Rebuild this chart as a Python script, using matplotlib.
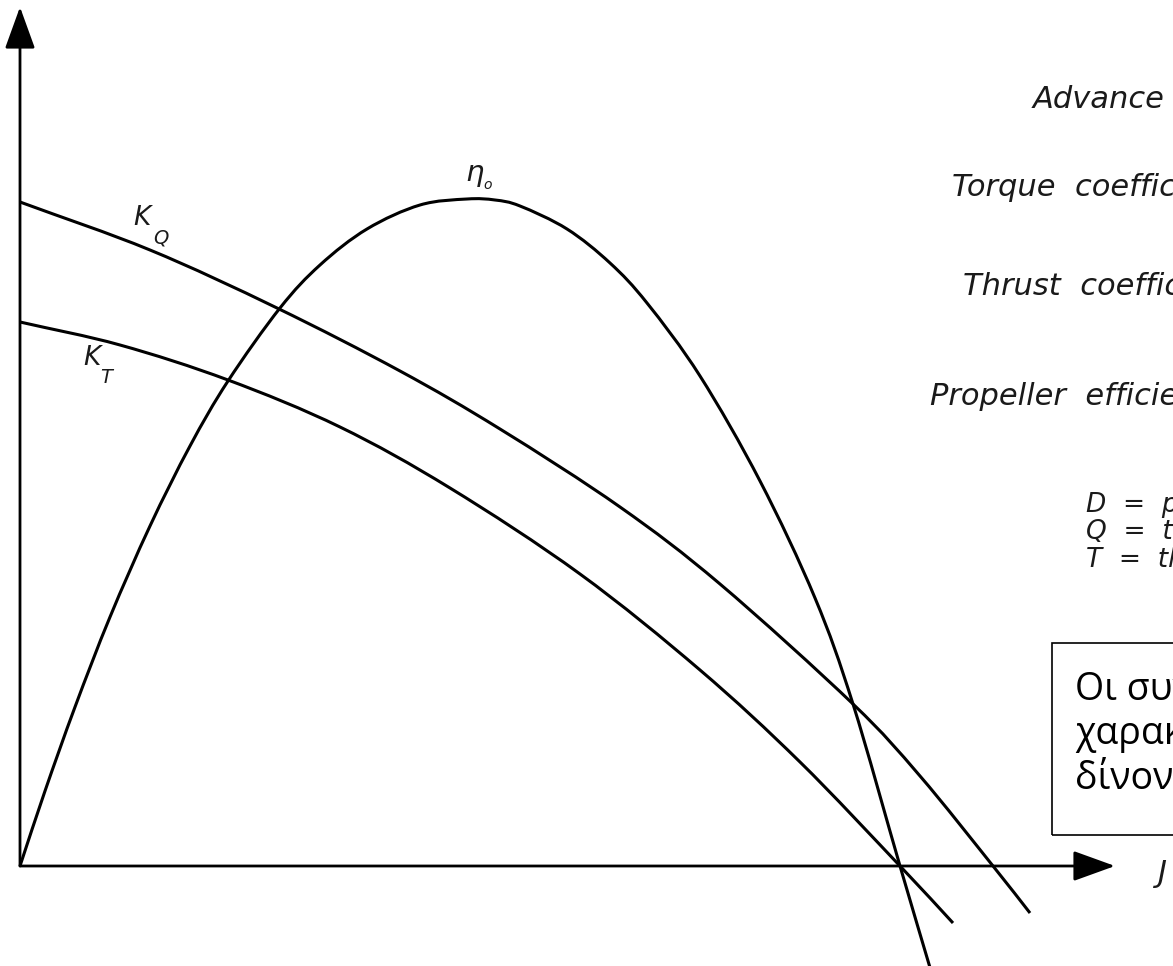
import matplotlib
matplotlib.use("Agg")
import numpy as np
import matplotlib.pyplot as plt
from matplotlib.path import Path
from matplotlib.patches import Rectangle, FancyArrowPatch, ArrowStyle, PathPatch

# open water curves of a propeller, J on the x axis
j_kq = [0.0, 0.13, 0.257, 0.38, 0.48, 0.60, 0.70, 0.833, 0.90, 0.973, 1.01]
kq = [0.664, 0.616, 0.558, 0.495, 0.437, 0.359, 0.282, 0.162, 0.090, 0.0, -0.047]

j_kt = [0.0, 0.10, 0.208, 0.32, 0.43, 0.56, 0.68, 0.78, 0.88, 0.933]
kt = [0.544, 0.521, 0.486, 0.439, 0.378, 0.292, 0.196, 0.104, 0.0, -0.057]

j_eta = [0.0, 0.025, 0.055, 0.09, 0.13, 0.17, 0.208, 0.26, 0.30, 0.347, 0.40,
         0.447, 0.475, 0.50, 0.547, 0.59, 0.627, 0.68, 0.74, 0.795, 0.833, 0.88, 0.911]
eta = [0.0, 0.075, 0.159, 0.249, 0.340, 0.420, 0.485, 0.558, 0.601, 0.637, 0.661,
       0.667, 0.666, 0.660, 0.637, 0.603, 0.563, 0.490, 0.385, 0.268, 0.162, 0.0, -0.105]

legend_lines = [
    ("Advance  coefficient  J", 1033, 108),
    ("Torque  coefficient  K", 952, 196),
    ("Thrust  coefficient  K", 963, 295),
    ("Propeller  efficiency", 930, 405),
]
symbol_lines = [
    ("D  =  propeller diameter", 1086, 512),
    ("Q  =  torque", 1086, 539),
    ("T  =  thrust", 1086, 567),
]
note_lines = [
    "Οι συντελεστές αυτοί",
    "χαρακτηρίζουν την έλικα και",
    "δίνονται από διαγράμματα",
]

W, H = 1173, 966
fig = plt.figure(figsize=(W / 100, H / 100), dpi=100)
fig.patch.set_facecolor("white")


def px(x, y):
    return x / W, 1 - y / H


def smooth(xs, ys):
    # catmull-rom through the points, written as cubic bezier segments
    p = np.column_stack([xs, ys])
    p = np.vstack([2 * p[0] - p[1], p, 2 * p[-1] - p[-2]])
    verts = [p[1]]
    codes = [Path.MOVETO]
    for i in range(1, len(p) - 2):
        c1 = p[i] + (p[i + 1] - p[i - 1]) / 6
        c2 = p[i + 1] - (p[i + 2] - p[i]) / 6
        verts += [c1, c2, p[i + 1]]
        codes += [Path.CURVE4] * 3
    return Path(verts, codes)


ax = fig.add_axes([0, 0, 1, 1])
ax.set_xlim(-0.02, 1.153)
ax.set_ylim(-0.1, 0.866)
ax.axis("off")

for xs, ys in [(j_kq, kq), (j_kt, kt), (j_eta, eta)]:
    ax.add_patch(PathPatch(smooth(xs, ys), fill=False, edgecolor="black",
                           lw=2.2, capstyle="butt"))

# axes with filled arrow heads
head = ArrowStyle("-|>", head_length=26, head_width=9.4)
for end in [(0.0, 0.859), (1.095, 0.0)]:
    ax.add_patch(FancyArrowPatch((0.0, 0.0), end, arrowstyle=head, mutation_scale=1,
                                 lw=2.0, color="black", shrinkA=0, shrinkB=0))

ital = dict(family="DejaVu Sans", style="italic", color="#1a1a1a", va="baseline", ha="left")

# curve labels
fig.text(*px(133, 225), "K", fontsize=19, **ital)
fig.text(*px(153, 244), "Q", fontsize=14, **ital)
fig.text(*px(83, 365), "K", fontsize=19, **ital)
fig.text(*px(100, 383), "T", fontsize=14, **ital)
fig.text(*px(465, 181), "η", fontsize=21, **ital)
fig.text(*px(483, 189), "o", fontsize=10, **ital)

for txt, x, y in legend_lines:
    fig.text(*px(x, y), txt, fontsize=22, **ital)
for txt, x, y in symbol_lines:
    fig.text(*px(x, y), txt, fontsize=19, **ital)
fig.text(*px(1158, 882), "J", fontsize=22, **ital)

# note box, runs off the right edge
fig.patches.append(Rectangle(px(1052, 835), 400 / W, (835 - 643) / H,
                             transform=fig.transFigure, fill=False,
                             edgecolor="black", lw=1.2))
for i, txt in enumerate(note_lines):
    fig.text(*px(1075, 699 + 45 * i), txt, fontsize=27,
             family=["Open Sans", "DejaVu Sans"], color="black",
             va="baseline", ha="left")

fig.savefig("out.png", dpi=100, facecolor="white")
